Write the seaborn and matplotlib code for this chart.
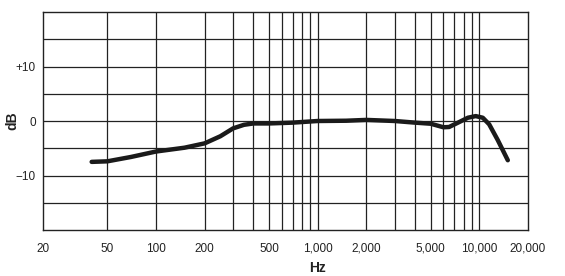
import matplotlib
matplotlib.use("Agg")
import matplotlib.pyplot as plt
import seaborn as sns
import pandas as pd
from matplotlib.ticker import FixedLocator, NullLocator, FixedFormatter

freq_hz = [40, 50, 70, 100, 150, 200, 250, 300, 350, 400, 500, 700, 1000, 1500,
           2000, 3000, 4000, 5000, 6000, 6500, 7500, 8500, 9500, 10500, 11500, 13000, 15000]
response_db = [-7.5, -7.4, -6.6, -5.6, -4.9, -4.1, -2.8, -1.35, -0.7, -0.45, -0.45, -0.3, 0.0, 0.05,
               0.2, 0.0, -0.3, -0.5, -1.15, -1.1, -0.2, 0.6, 0.9, 0.6, -0.6, -3.5, -7.2]

x_tick_values = [20, 50, 100, 200, 500, 1000, 2000, 5000, 10000, 20000]
x_tick_labels = ["20", "50", "100", "200", "500", "1,000", "2,000", "5,000", "10,000", "20,000"]
x_grid_values = [50, 100, 200, 300, 400, 500, 600, 700, 800, 900, 1000, 2000, 3000, 4000,
                 5000, 6000, 7000, 8000, 9000, 10000]
y_tick_values = [10, 0, -10]
y_tick_labels = ["+10", "0", "\u221210"]
y_grid_values = [-15, -10, -5, 0, 5, 10, 15]

sns.set_style("white")
plt.rcParams['font.family'] = ['Liberation Sans', 'DejaVu Sans']

df = pd.DataFrame({"Hz": freq_hz, "dB": response_db})

fig = plt.figure(figsize=(5.65, 2.76), dpi=100)
ax = fig.add_axes([43/565, 46/276, (528-43)/565, (230-12)/276])

for g in x_grid_values:
    ax.axvline(g, color="#222222", lw=0.9, zorder=1)
for g in y_grid_values:
    ax.axhline(g, color="#222222", lw=0.9, zorder=1)

sns.lineplot(data=df, x="Hz", y="dB", ax=ax, color="#1a1a1a", lw=3.2, zorder=3)

ax.set_xscale("log")
ax.set_xlim(20, 20000)
ax.set_ylim(-20, 20)
ax.xaxis.set_major_locator(FixedLocator(x_tick_values))
ax.xaxis.set_major_formatter(FixedFormatter(x_tick_labels))
ax.xaxis.set_minor_locator(NullLocator())
ax.yaxis.set_major_locator(FixedLocator(y_tick_values))
ax.yaxis.set_major_formatter(FixedFormatter(y_tick_labels))
ax.yaxis.set_minor_locator(NullLocator())
ax.tick_params(axis="x", length=0, pad=9, labelsize=8.5, colors="#222222")
ax.tick_params(axis="y", length=0, pad=5, labelsize=8.5, colors="#222222")

for s in ax.spines.values():
    s.set_color("#222222")
    s.set_linewidth(1.0)

ax.set_xlabel("Hz", fontsize=10, fontweight="bold", color="#222222", va="center")
ax.set_ylabel("dB", fontsize=10, fontweight="bold", color="#222222", va="center")
ax.xaxis.set_label_coords(0.567, -0.174)
ax.yaxis.set_label_coords(-0.064, 0.5)

fig.savefig("out.png", dpi=100)
